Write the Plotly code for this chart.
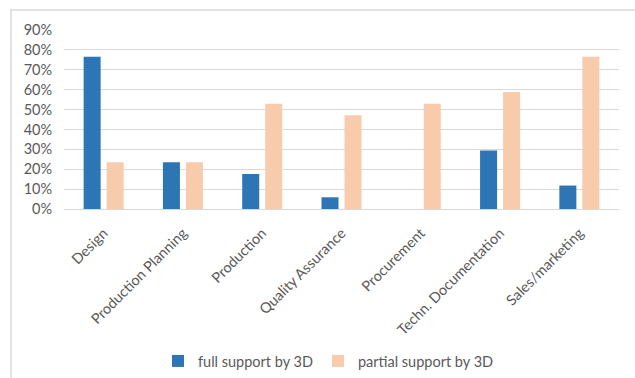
import plotly.graph_objects as go

categories = ["Design", "Production Planning", "Production", "Quality Assurance",
              "Procurement", "Techn. Documentation", "Sales/marketing"]
full_support = [0.765, 0.235, 0.176, 0.059, 0.0, 0.294, 0.118]
partial_support = [0.235, 0.235, 0.529, 0.471, 0.529, 0.588, 0.765]
series_names = ["full support by 3D", "partial support by 3D"]
y_ticks = [0, 0.1, 0.2, 0.3, 0.4, 0.5, 0.6, 0.7, 0.8, 0.9]

W, H = 635, 378
L, R, T, B = 64, 16, 30, 169
pw, ph = W - L - R, H - T - B

font = dict(family="Lato, Calibri, Liberation Sans, sans-serif", size=14.5, color="#595959")

fig = go.Figure()
fig.add_trace(go.Bar(x=categories, y=full_support, name=series_names[0],
                     marker=dict(color="#2E75B6", line=dict(width=0))))
fig.add_trace(go.Bar(x=categories, y=partial_support, name=series_names[1],
                     marker=dict(color="#F8CBAD", line=dict(width=0))))

# outer chart frame
fig.add_shape(type="rect", xref="paper", yref="paper",
              x0=(11 - L) / pw, x1=(W + 5 - L) / pw,
              y0=-(B + 10) / ph, y1=1 + (T - 10) / ph,
              line=dict(color="#D9D9D9", width=1.5), fillcolor="rgba(0,0,0,0)", layer="below")

fig.update_layout(
    width=W, height=H,
    margin=dict(l=L, r=R, t=T, b=B),
    paper_bgcolor="white", plot_bgcolor="white",
    barmode="group", bargap=0.42, bargroupgap=0.26,
    font=font,
    showlegend=True,
    legend=dict(orientation="h", xref="container", yref="container",
                x=158 / W, y=1 - 361 / H, xanchor="left", yanchor="middle",
                font=font, itemwidth=30, traceorder="normal"),
    xaxis=dict(tickangle=-45, showgrid=False, showline=True, linecolor="#D9D9D9",
               linewidth=1, ticks="", tickfont=font, ticklabelstandoff=9,
               automargin=False),
    yaxis=dict(range=[0, 0.9], tickvals=y_ticks, tickformat=".0%", showgrid=True,
               gridcolor="#D9D9D9", gridwidth=1, zeroline=False, showline=False,
               ticks="outside", ticklen=8, tickcolor="rgba(0,0,0,0)", tickfont=font,
               automargin=False),
)

fig.write_html("out.html")
